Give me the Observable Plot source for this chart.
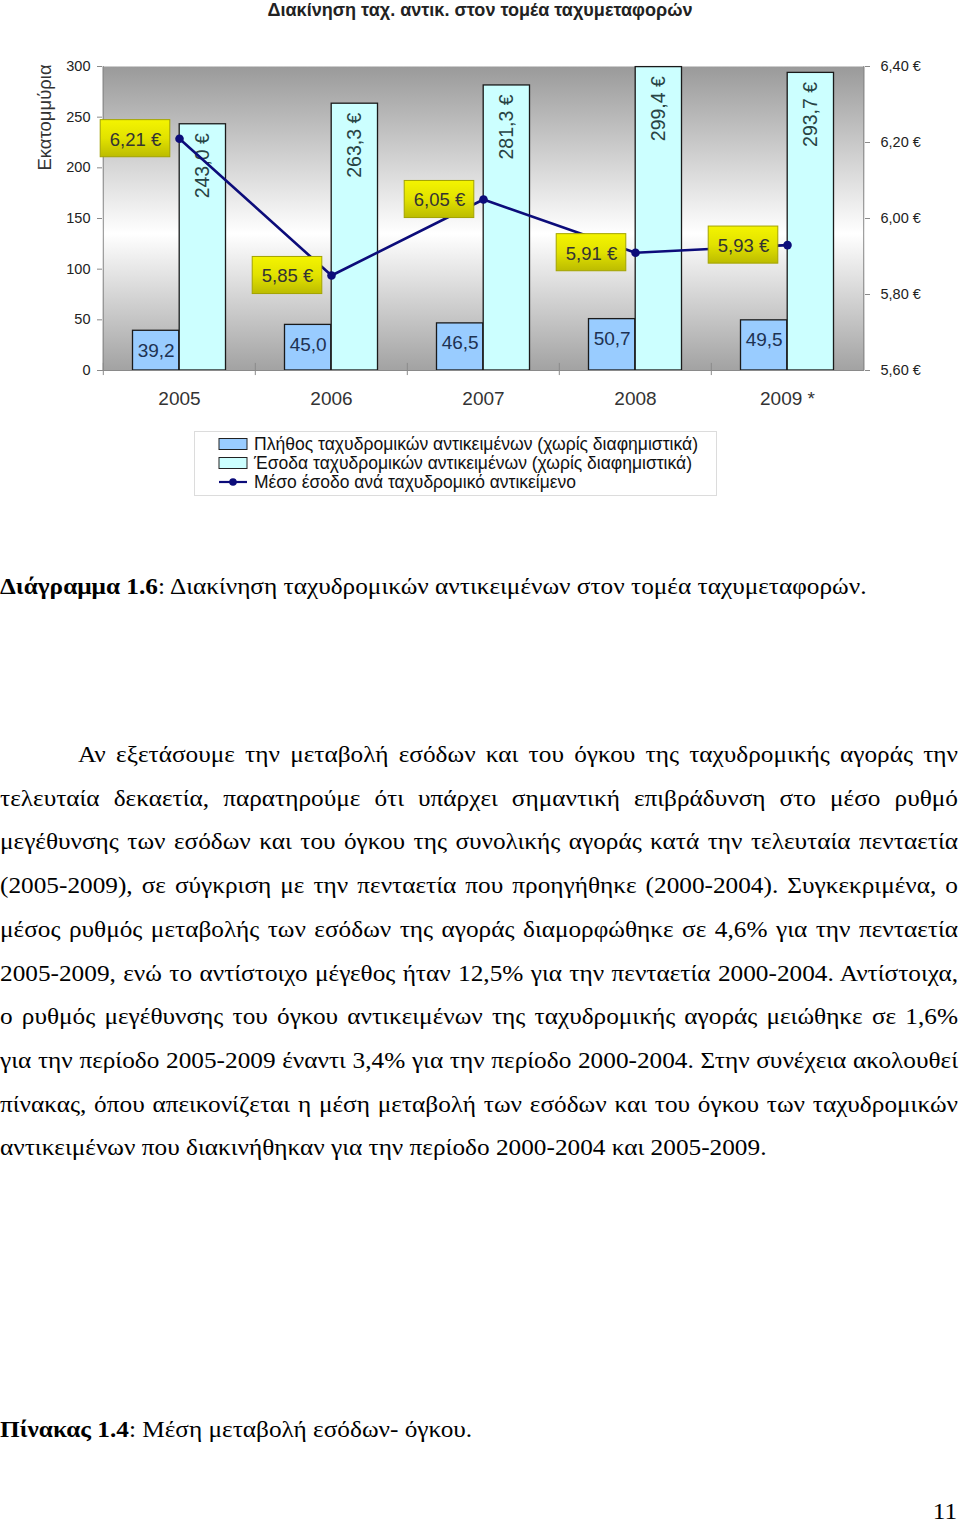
<!DOCTYPE html>
<html><head><meta charset="utf-8">
<script src="https://cdn.jsdelivr.net/npm/d3@7"></script>
<script src="https://cdn.jsdelivr.net/npm/@observablehq/plot@0.6"></script>
<style>
html,body{margin:0;padding:0;background:#fff;}
body{position:relative;width:960px;height:1523px;overflow:hidden;font-family:"Liberation Sans",Arial,sans-serif;}
#title{position:absolute;top:0;left:0;}
#chart{position:absolute;top:30px;left:0;}
#legend{position:absolute;left:194px;top:431px;}
.doc{position:absolute;left:0;font-family:"Liberation Serif","Times New Roman",serif;font-size:23px;line-height:28px;color:#000;transform-origin:0 0;}
.nw{white-space:nowrap;}
.pl{text-align:justify;text-align-last:justify;}
</style></head>
<body>
<svg id="title" width="960" height="24"><text x="480" y="16" text-anchor="middle" font-family="Liberation Sans, Arial, sans-serif" font-weight="bold" font-size="18" fill="#222" textLength="425" lengthAdjust="spacingAndGlyphs">Διακίνηση ταχ. αντικ. στον τομέα ταχυμεταφορών</text></svg>
<div id="chart"></div>
<svg id="legend" width="524" height="66"></svg>
<script>
// ---- data ----
const years = ["2005", "2006", "2007", "2008", "2009 *"];
const volume = [39.2, 45.0, 46.5, 50.7, 49.5];          // Πλήθος (εκατ.)
const revenue = [243.0, 263.3, 281.3, 299.4, 293.7];    // Έσοδα (εκατ. €)
const avgRevenue = [6.21, 5.85, 6.05, 5.91, 5.93];      // Μέσο έσοδο (€)
const leftTicks = [0, 50, 100, 150, 200, 250, 300];
const rightTicks = [5.6, 5.8, 6.0, 6.2, 6.4];
const leftDomain = [0, 300];
const rightDomain = [5.6, 6.4];
const legendLabels = [
  "Πλήθος ταχυδρομικών αντικειμένων (χωρίς διαφημιστικά)",
  "Έσοδα ταχυδρομικών αντικειμένων (χωρίς διαφημιστικά)",
  "Μέσο έσοδο ανά ταχυδρομικό αντικείμενο"
];
const yTitle = "Εκατομμύρια";

const toLeft = v => (v - rightDomain[0]) / (rightDomain[1] - rightDomain[0]) * (leftDomain[1] - leftDomain[0]) + leftDomain[0];
const fromLeft = y => (y - leftDomain[0]) / (leftDomain[1] - leftDomain[0]) * (rightDomain[1] - rightDomain[0]) + rightDomain[0];
const comma = (v, d) => v.toFixed(d).replace(".", ",");

const data = years.map((year, i) => ({year, volume: volume[i], revenue: revenue[i], avg: avgRevenue[i], avgY: toLeft(avgRevenue[i])}));

const W = 960, H = 390, mL = 102, mR = 96, mT = 36, mB = 50;
const bw = (W - mL - mR) / years.length;
const half = bw / 2;
const barW = 46.7;
const axisCol = "#8a8a8a";
const navy = "#0c0c7a";

const plot = Plot.plot({
  width: W, height: H, marginLeft: mL, marginRight: mR, marginTop: mT, marginBottom: mB,
  style: {fontFamily: '"Liberation Sans", Arial, sans-serif', background: "transparent", overflow: "visible"},
  x: {type: "band", domain: years, padding: 0, label: null},
  y: {domain: leftDomain, label: null},
  marks: [
    Plot.frame({fill: "url(#bgGrad)", stroke: "none"}),
    Plot.barY(data, {x: "year", y: "volume", fill: "#99CCFF", stroke: "#1a1a1a", strokeWidth: 1.3, insetLeft: half - barW, insetRight: half}),
    Plot.barY(data, {x: "year", y: "revenue", fill: "#CCFFFF", stroke: "#1a1a1a", strokeWidth: 1.3, insetLeft: half, insetRight: half - barW}),
    Plot.text(data, {x: "year", y: "volume", text: d => comma(d.volume, 1), dx: -barW / 2, dy: 20, fontSize: 19, fill: "#1e3252"}),
    Plot.text(data, {x: "year", y: "revenue", text: d => comma(d.revenue, 1) + " €", rotate: -90, textAnchor: "end", dx: barW / 2, dy: 9, fontSize: 19.5, fill: "#284444"}),
    Plot.ruleY([0], {stroke: axisCol}),
    Plot.ruleX([years[0]], {dx: -half, stroke: axisCol}),
    Plot.ruleX([years[years.length - 1]], {dx: half, stroke: axisCol}),
    Plot.ruleX(years, {x: d => d, dx: -half, y1: -5, y2: 7, stroke: axisCol}),
    Plot.axisY(leftTicks, {anchor: "left", tickSize: 5, tickPadding: 7, fontSize: 14.5, stroke: axisCol, fill: "#222", label: null}),
    Plot.axisY(rightTicks.map(toLeft), {anchor: "right", tickSize: 5, tickPadding: 11, fontSize: 14.5, stroke: axisCol, fill: "#222", label: null, tickFormat: y => comma(fromLeft(y), 2) + " €"}),
    Plot.axisX({tickSize: 0, tickPadding: 21, fontSize: 19, fill: "#333", label: null}),
    Plot.text([yTitle], {frameAnchor: "top-left", textAnchor: "middle", lineAnchor: "middle", dx: -57, dy: 51, rotate: -90, fontSize: 18.5, fill: "#333"}),
    Plot.line(data, {x: "year", y: "avgY", stroke: navy, strokeWidth: 2.6}),
    Plot.dot(data, {x: "year", y: "avgY", r: 4.3, fill: navy, stroke: "none"}),
    Plot.barY(data, {x: "year", y1: d => d.avgY - 18.3, y2: d => d.avgY + 18.3, insetLeft: half - 79, insetRight: half + 9, fill: "url(#yelGrad)", stroke: "#a3a300", strokeWidth: 1}),
    Plot.text(data, {x: "year", y: "avgY", text: d => comma(d.avg, 2) + " €", dx: -44, dy: 1, fontSize: 18.5, fill: "#333"})
  ]
});

const defs = d3.select(plot).insert("defs", ":first-child");
const bg = defs.append("linearGradient").attr("id", "bgGrad").attr("x1", 0).attr("y1", 0).attr("x2", 0).attr("y2", 1);
bg.append("stop").attr("offset", 0).attr("stop-color", "#9a9a9a");
bg.append("stop").attr("offset", 0.55).attr("stop-color", "#ffffff");
bg.append("stop").attr("offset", 1).attr("stop-color", "#a2a2a2");
const yg = defs.append("linearGradient").attr("id", "yelGrad").attr("x1", 0).attr("y1", 0).attr("x2", 0).attr("y2", 1);
yg.append("stop").attr("offset", 0).attr("stop-color", "#f4f400");
yg.append("stop").attr("offset", 0.5).attr("stop-color", "#e2e200");
yg.append("stop").attr("offset", 1).attr("stop-color", "#bcbc00");
document.getElementById("chart").appendChild(plot);

// ---- legend ----
const lg = d3.select("#legend");
lg.append("rect").attr("x", 0.5).attr("y", 0.5).attr("width", 522).attr("height", 64).attr("fill", "#fff").attr("stroke", "#dcdcdc");
const rowsY = [13, 32, 51];
const swFill = ["#99CCFF", "#CCFFFF"];
const lenText = [444, 438, 322];
legendLabels.forEach((t, i) => {
  if (i < 2) {
    lg.append("rect").attr("x", 25).attr("y", rowsY[i] - 5.5).attr("width", 28).attr("height", 11).attr("fill", swFill[i]).attr("stroke", "#222").attr("stroke-width", 1);
  } else {
    lg.append("line").attr("x1", 25).attr("x2", 53).attr("y1", rowsY[i]).attr("y2", rowsY[i]).attr("stroke", navy).attr("stroke-width", 2.2);
    lg.append("circle").attr("cx", 39).attr("cy", rowsY[i]).attr("r", 3.8).attr("fill", navy);
  }
  lg.append("text").attr("x", 60).attr("y", rowsY[i]).attr("dy", "0.35em").attr("font-size", 17.5).attr("fill", "#111")
    .attr("font-family", '"Liberation Sans", Arial, sans-serif')
    .attr("textLength", lenText[i]).attr("lengthAdjust", "spacingAndGlyphs").text(t);
});

// ---- document text ----
const paraLines = [
  "Αν εξετάσουμε την μεταβολή εσόδων και του όγκου της ταχυδρομικής αγοράς την",
  "τελευταία δεκαετία, παρατηρούμε ότι υπάρχει σημαντική επιβράδυνση στο μέσο ρυθμό",
  "μεγέθυνσης των εσόδων και του όγκου της συνολικής αγοράς κατά την τελευταία πενταετία",
  "(2005-2009), σε σύγκριση με την πενταετία που προηγήθηκε (2000-2004). Συγκεκριμένα, ο",
  "μέσος ρυθμός μεταβολής των εσόδων της αγοράς διαμορφώθηκε σε 4,6% για την πενταετία",
  "2005-2009, ενώ το αντίστοιχο μέγεθος ήταν 12,5% για την πενταετία 2000-2004. Αντίστοιχα,",
  "ο ρυθμός μεγέθυνσης του όγκου αντικειμένων της ταχυδρομικής αγοράς μειώθηκε σε 1,6%",
  "για την περίοδο 2005-2009 έναντι 3,4% για την περίοδο 2000-2004. Στην συνέχεια ακολουθεί",
  "πίνακας, όπου απεικονίζεται η μέση μεταβολή των εσόδων και του όγκου των ταχυδρομικών",
  "αντικειμένων που διακινήθηκαν για την περίοδο 2000-2004 και 2005-2009."
];
const F = 23;
const ctx = document.createElement("canvas").getContext("2d");
ctx.font = F + 'px "Liberation Serif", "Times New Roman", serif';
const indent = 78, full = 958;
const widths = paraLines.map(t => ctx.measureText(t).width);
let s = 770 / widths[9];
for (let i = 0; i < 9; i++) s = Math.min(s, (full - (i === 0 ? indent : 0)) / (widths[i] + 4));
function addLine(html, centerY, opts = {}) {
  const d = document.createElement("div");
  d.className = "doc " + (opts.just ? "pl" : "nw");
  d.innerHTML = html;
  d.style.top = (centerY - 14) + "px";
  d.style.transform = `scaleX(${s})`;
  if (opts.just) d.style.width = (full / s) + "px";
  if (opts.indent) d.style.textIndent = (opts.indent / s) + "px";
  if (opts.right != null) { d.style.left = "auto"; d.style.right = (960 - opts.right) + "px"; d.style.transformOrigin = "100% 0"; }
  document.body.appendChild(d);
}
addLine("<b>Διάγραμμα 1.6</b>: Διακίνηση ταχυδρομικών αντικειμένων στον τομέα ταχυμεταφορών.", 587);
paraLines.forEach((t, i) => addLine(t, 755 + i * 43.7, {just: i < 9, indent: i === 0 ? indent : 0}));
addLine("<b>Πίνακας 1.4</b>: Μέση μεταβολή εσόδων- όγκου.", 1430);
addLine("11", 1512, {right: 957});
</script>
</body></html>
